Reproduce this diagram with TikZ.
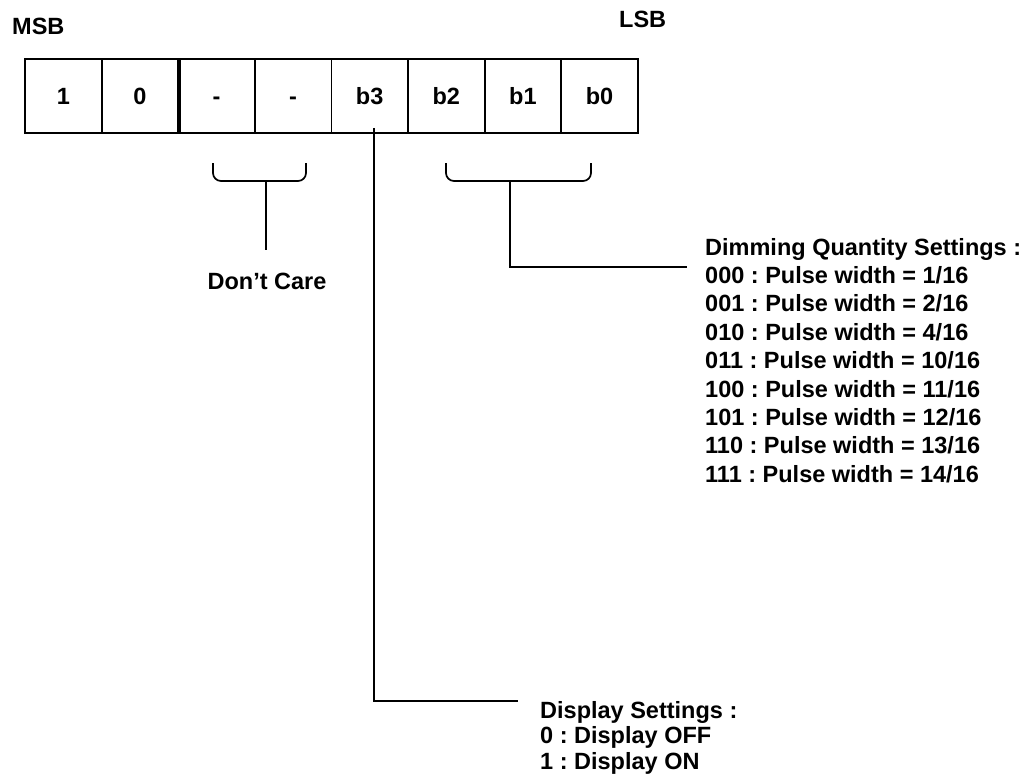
\documentclass[tikz,border=0pt]{standalone}
\usepackage{fontspec}
\setmainfont{Liberation Sans}
\frenchspacing
\begin{document}
\begin{tikzpicture}[x=1pt,y=-1pt,
  every node/.style={font=\fontsize{23.5}{28}\selectfont\bfseries\frenchspacing, inner sep=0pt},
  cell/.style={draw, line width=1.8pt, minimum width=76.6pt, minimum height=74pt,
               text height=17pt, text depth=0pt, anchor=center},
  lbl/.style={anchor=base west},
  conn/.style={line width=1.7pt},
  brace/.style={line width=1.7pt, rounded corners=8pt}]
\useasboundingbox (0,0) rectangle (1030,781);
% register cells
\foreach \t [count=\i from 0] in {1,0,-,-,b3,b2,b1,b0}{
  \node[cell] (c\i) at ({25+38.3+76.6*\i},96) {\t};
}
\draw[line width=3.2pt] (c1.north east) -- (c1.south east);
% MSB / LSB
\node[lbl] (msb) at (12,35) {MSB};
\node[lbl] (lsb) at (619,28) {LSB};
% Don't care brace
\coordinate (dcl) at (213,163);
\coordinate (dcr) at (306,163);
\draw[brace] (dcl) -- (213,181) -- (306,181) -- (dcr);
\coordinate (dctop) at (266,181);
\coordinate (dcbot) at (266,250);
\draw[conn] (dctop) -- (dcbot);
\node[anchor=base] (dc) at (267,289) {Don’t Care};
% Dimming brace
\coordinate (dml) at (446,163);
\coordinate (dmr) at (591,163);
\draw[brace] (dml) -- (446,181) -- (591,181) -- (dmr);
\coordinate (dmtop) at (510,181);
\coordinate (dmend) at (687,267);
\draw[conn] (dmtop) |- (dmend);
\foreach \t [count=\i from 0] in {Dimming Quantity Settings :,
  000 : Pulse width = 1/16, 001 : Pulse width = 2/16, 010 : Pulse width = 4/16,
  011 : Pulse width = 10/16, 100 : Pulse width = 11/16, 101 : Pulse width = 12/16,
  110 : Pulse width = 13/16, 111 : Pulse width = 14/16}{
  \node[lbl] (dm\i) at (705,{255+28.4*\i}) {\t};
}
% Display line
\coordinate (b3top) at (374,128);
\coordinate (dsend) at (518,700.7);
\draw[conn] (b3top) |- (dsend);
\foreach \t [count=\i from 0] in {Display Settings :, 0 : Display OFF, 1 : Display ON}{
  \node[lbl] (ds\i) at (540,{718+25.5*\i}) {\t};
}
\end{tikzpicture}
\end{document}
